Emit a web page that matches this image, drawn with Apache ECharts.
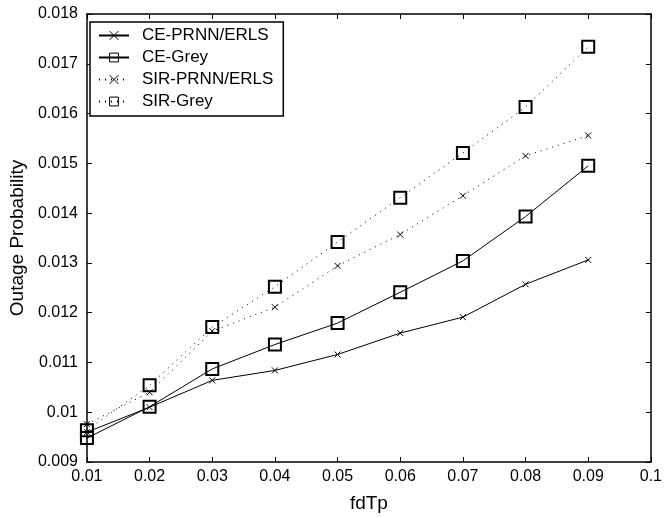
<!DOCTYPE html>
<html>
<head>
<meta charset="utf-8">
<script src="https://cdn.jsdelivr.net/npm/echarts@6/dist/echarts.min.js"></script>
<style>
  html, body { margin: 0; padding: 0; background: #fff; }
  #chart { width: 665px; height: 518px; }
</style>
</head>
<body>
<div id="chart"></div>
<script>
const fdTp = [0.01, 0.02, 0.03, 0.04, 0.05, 0.06, 0.07, 0.08, 0.09];
const cePrnn = [0.0096, 0.0101, 0.01064, 0.01084, 0.01116, 0.01159, 0.01191, 0.01257, 0.01306];
const ceGrey = [0.00948, 0.01011, 0.01087, 0.01136, 0.01179, 0.01241, 0.01304, 0.01393, 0.01495];
const sirPrnn = [0.00976, 0.0104, 0.01163, 0.01211, 0.01294, 0.01357, 0.01435, 0.01515, 0.01556];
const sirGrey = [0.00964, 0.01054, 0.01171, 0.01252, 0.01342, 0.01431, 0.01521, 0.01613, 0.01734];
const seriesNames = ['CE-PRNN/ERLS', 'CE-Grey', 'SIR-PRNN/ERLS', 'SIR-Grey'];

const font = '"Liberation Sans", Arial, sans-serif';
const crossPath = 'path://M0,0L10,10M10,0L0,10';

const pairs = (ys) => fdTp.map((x, i) => [x, ys[i]]);

const axisCommon = {
    axisLine: {lineStyle: {color: '#000', width: 1.5}},
    axisTick: {inside: true, length: 5, lineStyle: {color: '#000'}},
    splitLine: {show: false},
};

function makeSeries(name, ys, dotted, square) {
    return {
        name: name,
        type: 'line',
        data: pairs(ys),
        symbol: square ? 'rect' : crossPath,
        symbolSize: square ? 12 : 6,
        showAllSymbol: true,
        lineStyle: {color: '#000', width: 1, type: dotted ? [1, 5] : 'solid'},
        itemStyle: {color: 'rgba(0,0,0,0)', borderColor: '#000', borderWidth: square ? 2 : 1},
        emphasis: {disabled: true},
        animation: false,
    };
}

const chart = echarts.init(document.getElementById('chart'));
chart.setOption({
    backgroundColor: '#fff',
    animation: false,
    grid: {left: 83, right: 9, top: 14, bottom: 53},
    legend: {
        orient: 'vertical',
        left: 90,
        top: 22,
        data: seriesNames,
        itemWidth: 30,
        itemHeight: 11,
        itemGap: 5,
        padding: [5, 10, 6, 8],
        borderColor: '#000',
        borderWidth: 1.5,
        backgroundColor: '#fff',
        itemStyle: {borderWidth: 1},
        textStyle: {fontFamily: font, fontSize: 17, color: '#000', lineHeight: 17, padding: [0, 0, 0, 8]},
    },
    xAxis: [
        Object.assign({}, axisCommon, {
            type: 'value', min: 0.01, max: 0.1, interval: 0.01,
            name: 'fdTp', nameLocation: 'middle', nameGap: 32,
            nameTextStyle: {fontFamily: font, fontSize: 19, color: '#000'},
            axisLabel: {
                fontFamily: font, fontSize: 16, color: '#000', margin: 7,
                formatter: (v) => String(+v.toFixed(2)),
            },
        }),
        Object.assign({}, axisCommon, {
            type: 'value', min: 0.01, max: 0.1, interval: 0.01,
            position: 'top', axisLabel: {show: false},
        }),
    ],
    yAxis: [
        Object.assign({}, axisCommon, {
            type: 'value', min: 0.009, max: 0.018, interval: 0.001,
            name: 'Outage Probability', nameLocation: 'middle', nameGap: 58,
            nameTextStyle: {fontFamily: font, fontSize: 19, color: '#000'},
            axisLabel: {
                fontFamily: font, fontSize: 16, color: '#000', margin: 9,
                formatter: (v) => String(+v.toFixed(3)),
            },
        }),
        Object.assign({}, axisCommon, {
            type: 'value', min: 0.009, max: 0.018, interval: 0.001,
            position: 'right', axisLabel: {show: false},
        }),
    ],
    series: [
        makeSeries(seriesNames[0], cePrnn, false, false),
        makeSeries(seriesNames[1], ceGrey, false, true),
        makeSeries(seriesNames[2], sirPrnn, true, false),
        makeSeries(seriesNames[3], sirGrey, true, true),
    ],
});
</script>
</body>
</html>
